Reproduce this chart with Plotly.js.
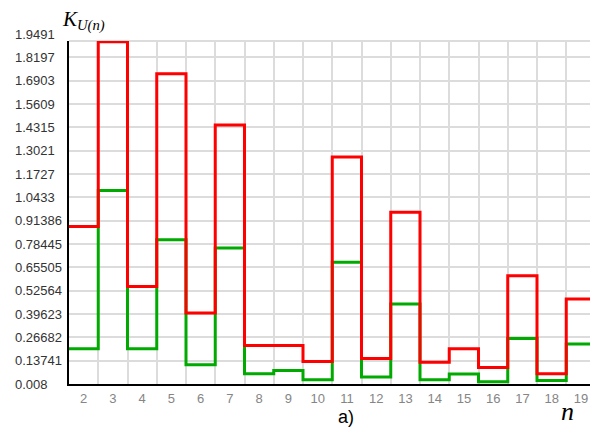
<!DOCTYPE html>
<html>
<head>
<meta charset="utf-8">
<script src="https://cdn.plot.ly/plotly-3.0.1.min.js"></script>
<style>
  html, body { margin: 0; padding: 0; background: #ffffff; }
  #chart { width: 590px; height: 427px; }
</style>
</head>
<body>
<div id="chart"></div>
<script>
// Harmonic number n
const harmonics = [2, 3, 4, 5, 6, 7, 8, 9, 10, 11, 12, 13, 14, 15, 16, 17, 18, 19];
// Upper (red) and lower (green) values of K_U(n) per harmonic
const redK   = [0.882, 1.907, 0.549, 1.729, 0.402, 1.444, 0.221, 0.221, 0.133, 1.267, 0.150, 0.960, 0.128, 0.204, 0.100, 0.609, 0.065, 0.480];
const greenK = [0.204, 1.082, 0.204, 0.808, 0.115, 0.762, 0.065, 0.083, 0.032, 0.683, 0.047, 0.452, 0.032, 0.064, 0.021, 0.261, 0.028, 0.230];
// Vertical axis labels
const yTickLabels = ['0.008', '0.13741', '0.26682', '0.39623', '0.52564', '0.65505', '0.78445',
                     '0.91386', '1.0433', '1.1727', '1.3021', '1.4315', '1.5609', '1.6903', '1.8197', '1.9491'];

const Y_MIN = 0.008, Y_MAX = 1.9106;
const X_MIN = 1.5, X_MAX = 1.5 + 521 / 29.25;

// Each harmonic occupies a cell [n-0.5, n+0.5]; build the step outline
function stepXY(vals) {
  const x = harmonics.map(v => v - 0.5);
  x.push(harmonics[harmonics.length - 1] + 0.5);
  const y = vals.slice();
  y.push(vals[vals.length - 1]);
  return { x, y };
}

const g = stepXY(greenK);
const r = stepXY(redK);

const traces = [
  { x: g.x, y: g.y, type: 'scatter', mode: 'lines', line: { shape: 'hv', color: '#00aa00', width: 3 }, hoverinfo: 'skip' },
  { x: r.x, y: r.y, type: 'scatter', mode: 'lines', line: { shape: 'hv', color: '#ff0000', width: 3 }, hoverinfo: 'skip' }
];

const plotW = 521, plotH = 343, marginL = 69, marginB = 43;
const px2paperX = px => (px - marginL) / plotW;
const px2paperY = py => (427 - marginB - py) / plotH;

const annotations = yTickLabels.map(t => ({
  text: t,
  xref: 'paper', x: px2paperX(13), xanchor: 'left',
  yref: 'paper', y: (parseFloat(t) - Y_MIN) / (Y_MAX - Y_MIN), yanchor: 'middle',
  showarrow: false,
  font: { family: 'Liberation Sans, Arial, sans-serif', size: 13, color: '#333333' }
}));

annotations.push({
  text: '<i>K<sub>U(n)</sub></i>',
  xref: 'paper', x: px2paperX(60), xanchor: 'left',
  yref: 'paper', y: px2paperY(36), yanchor: 'bottom',
  showarrow: false,
  font: { family: 'Liberation Serif, Times New Roman, serif', size: 21, color: '#000000' }
});
annotations.push({
  text: '<i>n</i>',
  xref: 'paper', x: px2paperX(567), xanchor: 'center',
  yref: 'paper', y: px2paperY(411), yanchor: 'middle',
  showarrow: false,
  font: { family: 'Liberation Serif, Times New Roman, serif', size: 26, color: '#000000' }
});
annotations.push({
  text: 'a)',
  xref: 'paper', x: px2paperX(346), xanchor: 'center',
  yref: 'paper', y: px2paperY(417), yanchor: 'middle',
  showarrow: false,
  font: { family: 'Liberation Sans Narrow, Liberation Sans, Arial, sans-serif', size: 18, color: '#000000' }
});

const layout = {
  width: 590, height: 427,
  margin: { l: marginL, r: 0, t: 41, b: marginB },
  paper_bgcolor: '#ffffff', plot_bgcolor: '#ffffff',
  showlegend: false,
  xaxis: {
    range: [X_MIN, X_MAX],
    tickmode: 'array', tickvals: harmonics, ticktext: harmonics.map(String),
    showgrid: false, zeroline: false,
    minor: { tickmode: 'array', tickvals: harmonics.slice(0, -1).map(v => v + 0.5), showgrid: true, gridcolor: '#dcdcdc', gridwidth: 2 },
    showline: true, linecolor: '#000000', linewidth: 2,
    ticks: '', ticklabelstandoff: 1,
    tickfont: { family: 'Liberation Sans, Arial, sans-serif', size: 13, color: '#858585' },
    fixedrange: true
  },
  yaxis: {
    range: [Y_MIN, Y_MAX],
    tickmode: 'array', tickvals: yTickLabels.map(parseFloat),
    showticklabels: false,
    showgrid: true, gridcolor: '#dcdcdc', gridwidth: 2, zeroline: false,
    showline: true, linecolor: '#000000', linewidth: 2,
    ticks: '', fixedrange: true
  },
  shapes: [
    { type: 'line', xref: 'paper', yref: 'paper', x0: 0, x1: 1, y0: 1, y1: 1, layer: 'below',
      line: { color: '#dcdcdc', width: 2 } }
  ],
  annotations: annotations
};

Plotly.newPlot('chart', traces, layout, { staticPlot: true, displayModeBar: false });
</script>
</body>
</html>
